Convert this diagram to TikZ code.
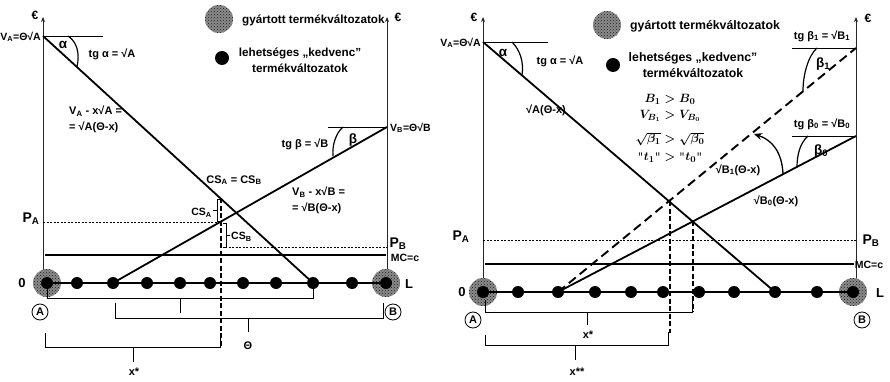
\documentclass[tikz,border=0pt]{standalone}
\usepackage{fontspec}
\setmainfont{Liberation Sans}
\setsansfont{Liberation Sans}
\usetikzlibrary{patterns,arrows.meta}
\tikzset{
  axisln/.style={line width=0.9pt,black!85,-{Stealth[length=5pt,width=4pt]}},
  mainln/.style={line width=1.8pt},
  baseln/.style={line width=1.1pt},
  pline/.style={line width=0.6pt,dash pattern=on 2pt off 1.5pt},
  vdash/.style={line width=1.2pt,dash pattern=on 5pt off 2.5pt},
  bdash/.style={line width=1.9pt,dash pattern=on 9pt off 5pt},
  bracket/.style={line width=0.9pt},
  arcln/.style={line width=1.2pt},
  lbl/.style={font=\bfseries\fontsize{11}{13}\selectfont,inner sep=0pt},
  slbl/.style={font=\bfseries\fontsize{10.5}{12}\selectfont,inner sep=0pt},
  plbl/.style={font=\bfseries\fontsize{14}{15}\selectfont,inner sep=0pt},
  mlbl/.style={font=\boldmath\fontsize{12.5}{14}\selectfont,inner sep=0pt},
  dotn/.style={circle,fill=black,minimum size=12pt,inner sep=0pt},
  hatchn/.style={circle,minimum size=28pt,inner sep=0pt,preaction={fill=black!45},pattern=crosshatch dots,pattern color=black!90},
  circlbl/.style={circle,draw,line width=0.8pt,inner sep=1pt,minimum size=16pt,font=\bfseries\fontsize{11}{12}\selectfont}
}
\begin{document}
\begin{tikzpicture}[x=1pt,y=-1pt]
\useasboundingbox (0,0) rectangle (890,382);
\fill[white] (0,0) rectangle (890,382);

% ================= LEFT PANEL =================
% legend
\node[hatchn] (lg1) at (219,19) {};
\node[lbl,anchor=west,font=\bfseries\fontsize{11.7}{14}\selectfont] (lg1t) at (242,20) {gyártott termékváltozatok};
\node[dotn,minimum size=14pt] (lg2) at (222,58) {};
\node[lbl,align=center,font=\bfseries\fontsize{11.7}{16}\selectfont] (lg2t) at (300,60) {lehetséges „kedvenc”\\termékváltozatok};

% axes
\coordinate (LaxLb) at (43,270); \coordinate (LaxLt) at (43,17);
\coordinate (LaxRb) at (387,270); \coordinate (LaxRt) at (387,17);
\draw[axisln] (LaxLb) -- (LaxLt);
\draw[axisln] (LaxRb) -- (LaxRt);
\node[lbl,font=\bfseries\fontsize{12}{12}\selectfont] (Leur1) at (35,15) {€};
\node[lbl,font=\bfseries\fontsize{12}{12}\selectfont] (Leur2) at (398,17) {€};

% vertices
\coordinate (LVA) at (43,36);
\coordinate (LVB) at (387,127);
\coordinate (LVAh) at (103,36);
\coordinate (LVBh) at (328,127);
\draw[line width=0.9pt] (LVA) -- (LVAh);
\draw[line width=0.9pt] (LVBh) -- (LVB);
\node[slbl,anchor=east] (LlVA) at (41,37) {V\textsubscript{A}=Θ√A};
\node[slbl,anchor=west] (LlVB) at (390,128) {V\textsubscript{B}=Θ√B};

% dots
\node[hatchn] (LA) at (47,283) {};
\node[dotn] (LA0) at (47,283) {};
\node[hatchn] (LB) at (386,283) {};
\node[dotn] (LB0) at (386,283) {};
\draw[baseln] (LA0) -- (LB0);
\foreach \i/\x in {1/77,2/113,3/147,4/180,5/210,6/243,7/276,8/313,9/352}
  \node[dotn] (L\i) at (\x,283) {};

% MC and price lines
\coordinate (LMC1) at (45,255); \coordinate (LMC2) at (386,255);
\draw[mainln] (LMC1) -- (LMC2);
\node[slbl] (LlMC) at (405,258) {MC=c};
\coordinate (LPA1) at (43,222); \coordinate (LPA2) at (221,222);
\draw[pline] (LPA1) -- (LPA2);
\coordinate (LPB1) at (225,247); \coordinate (LPB2) at (387,247);
\draw[pline] (LPB1) -- (LPB2);
\node[plbl] (LlPA) at (31,219) {P\textsubscript{A}};
\node[plbl] (LlPB) at (398,244) {P\textsubscript{B}};

% main lines
\draw[mainln] (LVA) -- (L8.center);
\draw[mainln] (L2.center) -- (LVB);

% angle arcs
\draw[arcln] (68,36) .. controls (77,42) and (80,53) .. (77,67);
\draw[arcln] (343,127) .. controls (336,133) and (332,145) .. (333,156);
\node[lbl,font=\bfseries\fontsize{13.5}{13}\selectfont] (Lalpha) at (63,45) {α};
\node[lbl,font=\bfseries\fontsize{13.5}{13}\selectfont] (Lbeta) at (353,140) {β};
\node[lbl] (Ltga) at (112,54) {tg α = √A};
\node[lbl] (Ltgb) at (305,144) {tg β = √B};

% formulas
\node[lbl,anchor=west] (LfA1) at (69,111) {V\textsubscript{A} - x√A =};
\node[lbl,anchor=west] (LfA2) at (69,127) {= √A(Θ-x)};
\node[lbl,anchor=west] (LfB1) at (292,192) {V\textsubscript{B} - x√B =};
\node[lbl,anchor=west] (LfB2) at (292,208) {= √B(Θ-x)};
\node[lbl] (Lcs) at (234,180) {CS\textsubscript{A} = CS\textsubscript{B}};

% x* dashed vertical and CS brackets
\coordinate (Lxs1) at (221,198); \coordinate (Lxs2) at (221,347);
\draw[vdash] (Lxs1) -- (Lxs2);
\draw[bracket] (220,199) -- (217,199) -- (217,221) -- (220,221) (217,210) -- (213,210);
\node[slbl,anchor=east] (LlCSA) at (212,213) {CS\textsubscript{A}};
\draw[bracket] (223,223) -- (226,223) -- (226,247) -- (223,247) (226,235) -- (230,235);
\node[slbl,anchor=west] (LlCSB) at (231,237) {CS\textsubscript{B}};

% braces
\draw[bracket] (LA0.center) -- (47,298) -- (313,298) -- (L8.center);
\draw[bracket] (180,298) -- (180,313);
\draw[bracket] (115,303) -- (115,318) -- (383,318) -- (383,303);
\draw[bracket] (248,318) -- (248,332);
\draw[bracket] (45,333) -- (45,347) -- (220,347) -- (220,333);
\draw[bracket] (133,347) -- (133,362);
\node[lbl] (Ltheta) at (248,346) {Θ};
\node[lbl] (Lxs) at (134,372) {x*};

\node[lbl,font=\bfseries\fontsize{13}{12}\selectfont] (L0) at (22,283) {0};
\node[lbl,font=\bfseries\fontsize{13}{12}\selectfont] (LL) at (409,284) {L};
\node[circlbl] (LcA) at (40,312) {A};
\node[circlbl] (LcB) at (393,312) {B};

% ================= RIGHT PANEL =================
\node[hatchn] (rg1) at (607,25) {};
\node[lbl,anchor=west,font=\bfseries\fontsize{12.3}{14}\selectfont] (rg1t) at (630,26) {gyártott termékváltozatok};
\node[dotn,minimum size=14pt] (rg2) at (613,65) {};
\node[lbl,align=center,font=\bfseries\fontsize{12.3}{16}\selectfont] (rg2t) at (693,65) {lehetséges „kedvenc”\\termékváltozatok};

\coordinate (RaxLb) at (483,278); \coordinate (RaxLt) at (483,17);
\coordinate (RaxRb) at (856,278); \coordinate (RaxRt) at (856,17);
\draw[axisln] (RaxLb) -- (RaxLt);
\draw[axisln] (RaxRb) -- (RaxRt);
\node[lbl,font=\bfseries\fontsize{12}{12}\selectfont] (Reur1) at (474,17) {€};
\node[lbl,font=\bfseries\fontsize{12}{12}\selectfont] (Reur2) at (868,18) {€};

\coordinate (RVA) at (483,42);
\coordinate (RVAh) at (548,42);
\coordinate (RVB1) at (856,48);
\coordinate (RVB1h) at (792,48);
\coordinate (RVB0) at (856,136);
\coordinate (RVB0h) at (792,136);
\draw[line width=0.9pt] (RVA) -- (RVAh);
\draw[line width=0.9pt] (RVB1h) -- (RVB1);
\draw[line width=0.9pt] (RVB0h) -- (RVB0);
\node[slbl,anchor=east] (RlVA) at (481,43) {V\textsubscript{A}=Θ√A};

% dots
\node[hatchn] (RA) at (483,292) {};
\node[dotn] (RA0) at (483,292) {};
\node[hatchn] (RB) at (853,292) {};
\node[dotn] (RB0) at (853,292) {};
\draw[baseln] (RA0) -- (RB0);
\foreach \i/\x in {1/518,2/558,3/595,4/631,5/663,6/699,7/734,8/775,9/817}
  \node[dotn] (R\i) at (\x,292) {};

% MC and price lines
\coordinate (RMC1) at (485,264); \coordinate (RMC2) at (854,264);
\draw[mainln] (RMC1) -- (RMC2);
\node[slbl] (RlMC) at (869,265) {MC=c};
\coordinate (RPA1) at (483,240); \coordinate (RPA2) at (856,240);
\draw[pline] (RPA1) -- (RPA2);
\node[plbl] (RlPA) at (461,237) {P\textsubscript{A}};
\node[plbl] (RlPB) at (871,241) {P\textsubscript{B}};

% main lines
\draw[mainln] (RVA) -- (R8.center);
\draw[mainln] (R2.center) -- (RVB0);
\draw[bdash] (R2.center) -- (RVB1);

% arcs
\draw[arcln] (512,42) .. controls (520,50) and (524,62) .. (522,75);
\draw[arcln] (817,48) .. controls (808,56) and (803,75) .. (803,91);
\draw[arcln] (808,136) .. controls (800,143) and (797,155) .. (797,167);
\draw[line width=1.3pt,-{Stealth[length=8pt,width=7pt]}] (783,174) .. controls (782,152) and (772,140) .. (754,134);
\node[lbl,font=\bfseries\fontsize{13.5}{13}\selectfont] (Ralpha) at (503,53) {α};
\node[lbl,font=\bfseries\fontsize{13.5}{13}\selectfont] (Rbeta1) at (823,64) {β\textsubscript{1}};
\node[lbl,font=\bfseries\fontsize{13.5}{13}\selectfont] (Rbeta0) at (821,151) {β\textsubscript{0}};
\node[lbl] (Rtga) at (560,61) {tg α = √A};
\node[lbl] (Rtgb1) at (822,36) {tg β\textsubscript{1} = √B\textsubscript{1}};
\node[lbl] (Rtgb0) at (822,124) {tg β\textsubscript{0} = √B\textsubscript{0}};
\node[lbl] (RfA) at (546,110) {√A(Θ-x)};
\node[lbl] (RfB1) at (738,170) {√B\textsubscript{1}(Θ-x)};
\node[lbl] (RfB0) at (776,201) {√B\textsubscript{0}(Θ-x)};

% comparison formulas
\node[mlbl] (Rm1) at (670,99) {$B_1 > B_0$};
\node[mlbl] (Rm2) at (670,116) {$V_{B_1} > V_{B_0}$};
\node[mlbl] (Rm3) at (670,139) {$\sqrt{\beta_1} > \sqrt{\beta_0}$};
\node[mlbl] (Rm4) at (670,158) {{\ttfamily"}$t_1${\ttfamily"} $>$ {\ttfamily"}$t_0${\ttfamily"}};

% dashed verticals
\coordinate (Rxa1) at (670,201); \coordinate (Rxa2) at (670,333);
\coordinate (Rxb1) at (693,221); \coordinate (Rxb2) at (693,312);
\draw[vdash] (Rxa1) -- (Rxa2);
\draw[vdash] (Rxb1) -- (Rxb2);

% braces
\draw[bracket] (485,300) -- (485,312) -- (692,312) -- (692,298);
\draw[bracket] (587,312) -- (587,325);
\draw[bracket] (485,335) -- (485,345) -- (668,345) -- (668,332);
\draw[bracket] (575,345) -- (575,360);
\node[lbl] (Rxs) at (588,335) {x*};
\node[lbl] (Rxss) at (577,372) {x**};

\node[lbl,font=\bfseries\fontsize{13}{12}\selectfont] (R0) at (462,292) {0};
\node[lbl,font=\bfseries\fontsize{13}{12}\selectfont] (RL) at (880,293) {L};
\node[circlbl] (RcA) at (473,320) {A};
\node[circlbl] (RcB) at (862,320) {B};
\end{tikzpicture}
\end{document}
